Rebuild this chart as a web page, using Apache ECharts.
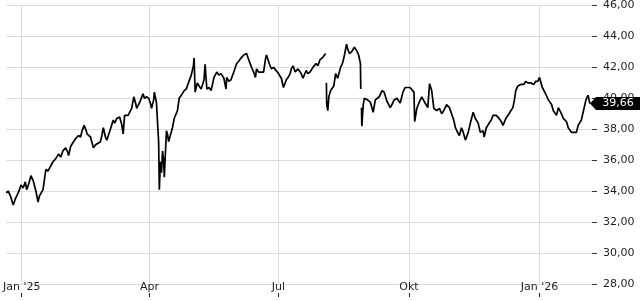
<!DOCTYPE html>
<html><head><meta charset="utf-8">
<script src="https://cdn.jsdelivr.net/npm/echarts@6/dist/echarts.min.js"></script>
<style>html,body{margin:0;padding:0;background:#fff}#c{width:640px;height:300px}</style>
</head><body><div id="c"></div>
<script>
const tickDates = ['2025-01-01','2025-04-01','2025-07-01','2025-10-01','2026-01-01'];
const tickLabels = ["Jan '25","Apr","Jul","Okt","Jan '26"];
const axisStart = '2024-12-21';
const axisEnd = '2026-02-07';
const yMin = 28, yMax = 46, yStep = 2;
const lastPrice = 39.66;
const prices = [
['2024-12-21',33.9],['2024-12-22 12:00',34.0],['2024-12-24',33.7],['2024-12-25',33.8],['2024-12-26',33.1],
['2024-12-27 12:00',33.5],['2024-12-28 12:00',33.7],['2024-12-30',34.0],['2024-12-31 12:00',34.4],
['2025-01-02',34.2],['2025-01-03 12:00',34.6],['2025-01-04 12:00',34.1],['2025-01-06',34.5],['2025-01-07 12:00',35.0],
['2025-01-09',34.7],['2025-01-09 12:00',34.6],['2025-01-11',34.0],['2025-01-12 12:00',33.3],['2025-01-13 12:00',33.7],
['2025-01-16',34.1],['2025-01-18',35.4],['2025-01-19 12:00',35.3],['2025-01-20 12:00',35.4],['2025-01-23',35.9],
['2025-01-25',36.1],['2025-01-27',36.4],['2025-01-28 12:00',36.2],['2025-01-30',36.6],
['2025-02-01',36.8],['2025-02-02 12:00',36.5],['2025-02-03',36.3],['2025-02-04 12:00',36.9],['2025-02-05 12:00',37.0],
['2025-02-08',37.4],['2025-02-10',37.6],['2025-02-11 12:00',37.5],['2025-02-12 12:00',37.9],['2025-02-14',38.25],
['2025-02-15 12:00',37.9],['2025-02-16',37.7],['2025-02-18 12:00',37.5],['2025-02-20 12:00',36.8],['2025-02-22',37.0],
['2025-02-23',36.9],['2025-02-25 12:00',37.2],['2025-02-26 12:00',37.6],['2025-02-27 12:00',38.1],
['2025-03-01',37.5],['2025-03-02',37.3],['2025-03-04 12:00',38.0],['2025-03-06 12:00',38.6],['2025-03-07 12:00',38.4],
['2025-03-09',38.7],['2025-03-11',38.8],['2025-03-12 12:00',38.3],['2025-03-13 12:00',37.7],['2025-03-14 12:00',38.9],
['2025-03-17',38.9],['2025-03-18',39.0],['2025-03-19 12:00',39.35],['2025-03-21',40.1],['2025-03-22 12:00',39.6],
['2025-03-23',39.35],['2025-03-25',39.7],['2025-03-27 12:00',40.3],['2025-03-28 12:00',40.0],['2025-03-30',40.1],
['2025-03-31 12:00',40.0],
['2025-04-02',39.6],['2025-04-02 12:00',39.35],['2025-04-04',39.9],['2025-04-04 12:00',40.4],['2025-04-06',39.7],
['2025-04-06 18:00',38.4],['2025-04-07 12:00',37.2],['2025-04-08',34.1],['2025-04-08 18:00',35.9],['2025-04-09 12:00',35.2],
['2025-04-10 06:00',36.6],['2025-04-11',36.0],['2025-04-11 12:00',34.9],['2025-04-12 06:00',36.4],['2025-04-13',37.9],
['2025-04-13 18:00',37.7],['2025-04-14 12:00',37.2],['2025-04-15 18:00',37.1],['2025-04-17 06:00',38.1],['2025-04-18 12:00',38.7],
['2025-04-20 18:00',39.2],['2025-04-22',40.0],['2025-04-24 06:00',40.3],['2025-04-25 12:00',40.5],['2025-04-27',40.6],
['2025-04-28 12:00',41.0],['2025-04-30 12:00',41.5],
['2025-05-02',42.1],['2025-05-02 12:00',42.6],['2025-05-03 06:00',40.4],['2025-05-04 18:00',41.0],['2025-05-06',40.8],
['2025-05-07 12:00',40.6],['2025-05-09 12:00',41.2],['2025-05-10 06:00',42.2],['2025-05-11 12:00',40.6],['2025-05-13',40.7],
['2025-05-14 12:00',40.5],['2025-05-16 12:00',41.35],['2025-05-18 12:00',41.7],['2025-05-20',41.5],['2025-05-21 12:00',41.6],
['2025-05-23 12:00',41.3],['2025-05-25',40.6],['2025-05-25 12:00',41.35],['2025-05-27',41.1],['2025-05-28 12:00',41.2],
['2025-05-30 12:00',41.7],
['2025-06-01 12:00',42.25],['2025-06-03',42.4],['2025-06-04 12:00',42.6],['2025-06-06 12:00',42.8],['2025-06-08 12:00',42.9],
['2025-06-10',42.5],['2025-06-12',42.0],['2025-06-13 12:00',41.7],['2025-06-14 18:00',41.35],['2025-06-15 12:00',41.9],
['2025-06-17',41.7],['2025-06-18 06:00',41.8],['2025-06-20 12:00',41.7],['2025-06-21 18:00',42.5],['2025-06-22 12:00',42.8],
['2025-06-24 12:00',42.25],['2025-06-26',41.9],['2025-06-27 12:00',42.0],['2025-06-28 18:00',41.9],
['2025-07-01',41.6],['2025-07-03',41.3],['2025-07-04 12:00',40.7],['2025-07-06 12:00',41.2],['2025-07-07 18:00',41.35],
['2025-07-09 06:00',41.6],['2025-07-10',41.9],['2025-07-11 06:00',42.1],['2025-07-12 18:00',41.7],['2025-07-14 18:00',41.9],
['2025-07-17',41.6],['2025-07-18 06:00',41.3],['2025-07-20 12:00',41.8],['2025-07-21 18:00',41.6],['2025-07-23 06:00',41.7],
['2025-07-25 06:00',42.0],['2025-07-27 12:00',42.25],['2025-07-28 18:00',42.1],['2025-07-30 06:00',42.5],
['2025-08-01 06:00',42.65],['2025-08-03 06:00',42.9],['2025-08-03 12:00','-'],
['2025-08-03 18:00',41.0],['2025-08-04',39.6],['2025-08-04 18:00',39.2],['2025-08-05 12:00',40.1],['2025-08-06 18:00',40.5],
['2025-08-09',40.8],['2025-08-10 06:00',41.6],['2025-08-11 18:00',41.3],['2025-08-13 18:00',42.0],['2025-08-15 06:00',42.3],
['2025-08-16 12:00',42.8],['2025-08-18',43.5],['2025-08-18 18:00',43.2],['2025-08-20',42.9],['2025-08-21 12:00',43.0],
['2025-08-23 12:00',43.3],['2025-08-25',43.1],['2025-08-26 12:00',42.8],['2025-08-27 18:00',42.25],['2025-08-28',40.6],
['2025-08-28 06:00','-'],
['2025-08-28 12:00',39.4],['2025-08-28 18:00',38.2],['2025-08-29 18:00',39.6],['2025-08-30 12:00',40.0],
['2025-09-01 18:00',39.9],['2025-09-03 18:00',39.75],['2025-09-05 18:00',39.1],['2025-09-07 06:00',39.9],['2025-09-08 12:00',39.8],
['2025-09-10',40.1],['2025-09-12',40.5],['2025-09-13 12:00',40.4],['2025-09-15 12:00',39.8],['2025-09-17 18:00',39.4],
['2025-09-19',39.6],['2025-09-20 12:00',39.9],['2025-09-22 12:00',40.0],['2025-09-24 18:00',39.7],['2025-09-26 18:00',40.4],
['2025-09-28 06:00',40.7],['2025-09-29 12:00',40.6],
['2025-10-01 18:00',40.7],['2025-10-03',40.6],['2025-10-04 12:00',40.4],['2025-10-05',38.5],['2025-10-06 12:00',39.35],
['2025-10-08',39.7],['2025-10-10',40.1],['2025-10-12',39.75],['2025-10-14 06:00',39.4],['2025-10-15 12:00',40.95],
['2025-10-17',40.5],['2025-10-18 12:00',39.35],['2025-10-20 12:00',39.2],['2025-10-22 12:00',39.35],['2025-10-24',39.0],
['2025-10-25 12:00',39.2],['2025-10-27 12:00',39.6],['2025-10-29 12:00',39.4],['2025-10-31',39.0],
['2025-11-01 12:00',38.6],['2025-11-02 18:00',38.1],['2025-11-04 06:00',37.8],['2025-11-05 12:00',37.6],['2025-11-07',38.1],
['2025-11-08 06:00',37.8],['2025-11-09 18:00',37.3],['2025-11-11 18:00',37.8],['2025-11-13 06:00',38.4],['2025-11-15 06:00',39.1],
['2025-11-16 18:00',38.7],['2025-11-18 18:00',38.4],['2025-11-20 06:00',37.8],['2025-11-22 06:00',37.9],['2025-11-23',37.5],
['2025-11-24 12:00',38.1],['2025-11-26 12:00',38.4],['2025-11-28',38.6],['2025-11-29 06:00',38.9],
['2025-12-01 12:00',38.9],['2025-12-03 12:00',38.7],['2025-12-05',38.5],['2025-12-06 06:00',38.25],['2025-12-08 06:00',38.7],
['2025-12-10 12:00',39.0],['2025-12-11 18:00',39.2],['2025-12-13 06:00',39.4],['2025-12-14 12:00',40.0],['2025-12-15 06:00',40.5],
['2025-12-16 18:00',40.8],['2025-12-18 18:00',40.9],['2025-12-21',40.9],['2025-12-22 06:00',41.1],['2025-12-23 18:00',41.0],
['2025-12-25 18:00',41.0],['2025-12-28',40.9],['2025-12-29 06:00',41.1],['2025-12-30 18:00',41.1],
['2026-01-01',41.35],['2026-01-03',40.7],['2026-01-05 06:00',40.3],['2026-01-07 06:00',39.9],['2026-01-09 12:00',39.6],
['2026-01-10 18:00',39.2],['2026-01-13',38.9],['2026-01-14 06:00',39.4],['2026-01-16 12:00',39.0],['2026-01-17 18:00',38.7],
['2026-01-20',38.5],['2026-01-21 06:00',38.1],['2026-01-23 12:00',37.8],['2026-01-24 18:00',37.9],['2026-01-27',37.8],
['2026-01-28 06:00',38.25],['2026-01-30 12:00',38.6],['2026-01-31 18:00',39.1],
['2026-02-02 18:00',39.9],['2026-02-04 06:00',40.2],['2026-02-05 12:00',lastPrice]
];

function ts(s){
  const parts = s.split(' ');
  const p = parts[0].split('-');
  let h = 0, m = 0;
  if (parts[1]) { const q = parts[1].split(':'); h = +q[0]; m = +q[1]; }
  return new Date(+p[0], +p[1]-1, +p[2], h, m).getTime();
}
const tickTs = tickDates.map(ts);
const seriesData = prices.map(d => [ts(d[0]), d[1]]);
const fmtNum = v => v.toFixed(2).replace('.', ',');
const FONT = 'DejaVu Sans';
const TXT = '#1f1f1f';
const xMin = ts(axisStart), xMax = ts(axisEnd);

function xLabel(v){
  let best = 0, bd = Infinity;
  tickTs.forEach((t,i)=>{ const d = Math.abs(t - v); if (d < bd) { bd = d; best = i; } });
  return tickLabels[best];
}

const chart = echarts.init(document.getElementById('c'), null, {renderer:'canvas'});
chart.setOption({
  animation: false,
  backgroundColor: '#ffffff',
  grid: {left: 0, right: 48, top: 5, bottom: 16, containLabel: false},
  xAxis: [{
    type: 'value', min: xMin, max: xMax,
    axisLine: {show: false},
    axisTick: {show: false, customValues: tickTs},
    axisLabel: {customValues: tickTs, margin: -2, fontSize: 11, fontFamily: FONT, color: TXT, formatter: xLabel,
      alignMinLabel: 'center', alignMaxLabel: 'center', hideOverlap: false},
    splitLine: {show: true, lineStyle: {color: '#dcdcdc', width: 1}}
  },{
    type: 'value', min: xMin, max: xMax, position: 'bottom', offset: 9,
    axisLine: {show: false},
    axisTick: {show: true, customValues: tickTs, length: 4, lineStyle: {color: '#222'}},
    axisLabel: {show: false},
    splitLine: {show: false}
  }],
  yAxis: {
    type: 'value', position: 'right', min: yMin, max: yMax, interval: yStep,
    axisLine: {show: false},
    axisTick: {show: true, length: 5, lineStyle: {color: '#333'}},
    axisLabel: {margin: 11, fontSize: 11, fontFamily: FONT, color: TXT, formatter: fmtNum},
    splitLine: {show: true, lineStyle: {color: '#dcdcdc', width: 1}}
  },
  series: [{
    type: 'line', xAxisIndex: 0, data: seriesData, showSymbol: false, symbol: 'none',
    connectNulls: false, lineStyle: {color: '#000', width: 1.7}, z: 3,
    markPoint: {
      silent: true, animation: false,
      symbol: 'path://M0,6.5L6,0L50,0L50,13L6,13Z', symbolSize: [50, 13], symbolKeepAspect: false,
      symbolOffset: [23, 0],
      itemStyle: {color: '#000'},
      label: {show: true, position: 'inside', offset: [3, 0], color: '#fff', fontSize: 11, fontFamily: FONT,
        formatter: p => fmtNum(p.value)},
      data: [{coord: [xMax, lastPrice], value: lastPrice}]
    }
  }]
});
</script></body></html>
